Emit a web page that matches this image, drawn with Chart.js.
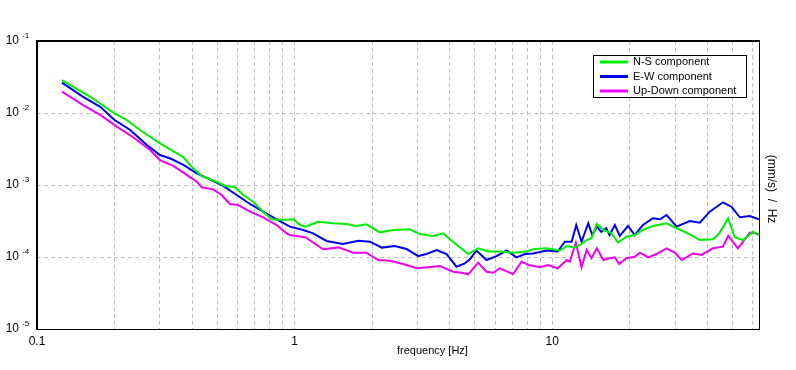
<!DOCTYPE html>
<html>
<head>
<meta charset="utf-8">
<script src="https://cdn.jsdelivr.net/npm/chart.js@4.4.1/dist/chart.umd.min.js"></script>
<style>
html,body{margin:0;padding:0;background:#ffffff;}
#wrap{width:796px;height:370px;position:relative;}
</style>
</head>
<body>
<div id="wrap"><canvas id="c" width="796" height="370"></canvas></div>
<script>
// ---- data ----
const seriesNames = ['N-S component', 'E-W component', 'Up-Down component'];

const nsFreq = [0.125,0.161,0.2,0.223,0.251,0.3,0.328,0.37,0.398,0.436,0.498,0.537,0.587,0.632,0.691,0.755,0.814,0.903,0.988,1.05,1.1,1.235,1.41,1.59,1.74,1.9,2.14,2.41,2.8,3.06,3.45,3.77,4.12,4.72,5.16,5.64,6.26,7.05,7.95,8.43,9.5,10.7,11.4,12.2,12.8,13.6,14.2,14.9,15.8,17.0,18.0,19.4,20.9,22.5,24.6,27.8,30.4,33.2,37.4,42.1,44.7,48.2,51.1,55.1,60.2,63.4];
const nsPSD = [2.87e-2,1.68e-2,9.9e-3,8.0e-3,5.81e-3,3.79e-3,3.16e-3,2.43e-3,1.80e-3,1.33e-3,1.11e-3,9.7e-4,9.3e-4,7.26e-4,5.86e-4,4.26e-4,3.34e-4,3.27e-4,3.34e-4,2.78e-4,2.64e-4,3.09e-4,2.94e-4,2.87e-4,2.70e-4,2.84e-4,2.20e-4,2.37e-4,2.43e-4,2.08e-4,1.96e-4,2.13e-4,1.63e-4,1.10e-4,1.32e-4,1.19e-4,1.19e-4,1.15e-4,1.19e-4,1.28e-4,1.32e-4,1.23e-4,1.42e-4,1.36e-4,1.47e-4,1.72e-4,1.82e-4,2.87e-4,2.37e-4,2.13e-4,1.58e-4,1.91e-4,2.02e-4,2.37e-4,2.70e-4,2.94e-4,2.51e-4,2.18e-4,1.72e-4,1.76e-4,2.18e-4,3.45e-4,1.88e-4,1.72e-4,2.24e-4,2.02e-4];

const ewFreq = [0.125,0.151,0.176,0.2,0.23,0.267,0.3,0.328,0.37,0.417,0.469,0.528,0.596,0.671,0.755,0.852,0.959,1.08,1.18,1.33,1.54,1.77,1.96,2.18,2.45,2.72,3.02,3.25,3.56,3.89,4.25,4.58,4.79,5.08,5.56,6.08,6.65,7.27,7.83,8.43,9.5,10.5,11.2,11.9,12.4,13.0,13.8,14.3,14.9,15.5,16.2,16.7,17.5,18.3,19.7,20.9,22.5,24.6,26.2,27.8,30.4,34.2,37.4,40.9,46.0,49.6,53.5,58.5,63.4];
const ewPSD = [2.64e-2,1.68e-2,1.22e-2,8.0e-3,5.81e-3,3.6e-3,2.61e-3,2.35e-3,1.90e-3,1.45e-3,1.20e-3,9.7e-4,7.26e-4,5.45e-4,4.26e-4,3.34e-4,2.64e-4,2.37e-4,2.13e-4,1.67e-4,1.52e-4,1.68e-4,1.63e-4,1.35e-4,1.42e-4,1.29e-4,1.03e-4,1.10e-4,1.25e-4,1.10e-4,7.33e-5,8.17e-5,9.3e-5,1.23e-4,9.08e-5,1.03e-4,1.23e-4,9.9e-5,1.10e-4,1.12e-4,1.23e-4,1.19e-4,1.63e-4,1.63e-4,2.78e-4,1.63e-4,2.94e-4,2.02e-4,2.64e-4,2.24e-4,2.51e-4,2.02e-4,2.78e-4,1.96e-4,2.70e-4,2.02e-4,2.78e-4,3.45e-4,3.34e-4,3.83e-4,2.64e-4,3.16e-4,2.99e-4,4.26e-4,5.75e-4,5.0e-4,3.56e-4,3.71e-4,3.34e-4];

const udFreq = [0.125,0.151,0.176,0.204,0.236,0.275,0.3,0.338,0.381,0.417,0.436,0.483,0.521,0.561,0.604,0.671,0.755,0.852,0.931,0.959,1.1,1.29,1.48,1.69,1.9,2.11,2.34,2.64,2.98,3.3,3.66,4.12,4.45,4.72,5.16,5.56,5.9,6.26,7.05,7.6,8.13,8.95,9.64,10.5,11.4,11.7,12.35,13.0,13.6,14.2,14.9,15.8,16.7,17.5,18.2,19.4,20.9,21.9,23.6,25.4,27.8,29.9,31.8,35.2,37.9,42.1,46.0,48.2,52.6,58.5,63.4];
const udPSD = [1.98e-2,1.29e-2,9.4e-3,6.46e-3,4.6e-3,3.06e-3,2.22e-3,1.84e-3,1.38e-3,1.11e-3,9.3e-4,8.7e-4,7.26e-4,5.45e-4,5.27e-4,4.26e-4,3.56e-4,2.78e-4,2.13e-4,2.02e-4,1.88e-4,1.28e-4,1.36e-4,1.15e-4,1.15e-4,9.08e-5,8.89e-5,8.0e-5,6.97e-5,7.2e-5,7.5e-5,6.25e-5,6.05e-5,5.75e-5,8.34e-5,6.25e-5,6.05e-5,6.97e-5,5.8e-5,8.6e-5,7.74e-5,7.2e-5,7.74e-5,6.97e-5,9.08e-5,8.6e-5,1.58e-4,7.2e-5,1.25e-4,9.6e-5,1.32e-4,9.08e-5,9.6e-5,9.9e-5,8.0e-5,9.6e-5,1.01e-4,1.15e-4,9.9e-5,1.10e-4,1.32e-4,1.15e-4,9.08e-5,1.12e-4,1.07e-4,1.32e-4,1.39e-4,1.96e-4,1.32e-4,2.18e-4,2.08e-4];

const xTickLabels = ['0.1', '1', '10'];
const yTickExponents = [-1, -2, -3, -4, -5];
const xAxisTitle = 'frequency [Hz]';
const yAxisTitle = '(mm/s)  /  Hz';

// ---- chart ----
const FONT = '"Liberation Sans", Arial, sans-serif';
const colors = ['#00ee00', '#0000f0', '#f000f0'];
const toPts = (fs, vs) => fs.map((f, i) => ({x: f, y: vs[i]}));

const datasets = [
  [nsFreq, nsPSD], [ewFreq, ewPSD], [udFreq, udPSD]
].map(([f, v], i) => ({
  label: seriesNames[i],
  data: toPts(f, v),
  borderColor: colors[i],
  backgroundColor: colors[i],
  borderWidth: 2,
  pointRadius: 0,
  tension: 0,
  fill: false
}));

const extras = {
  id: 'extras',
  afterDraw(chart) {
    const {ctx, chartArea: a, scales: {y}} = chart;
    ctx.save();
    // frame
    ctx.fillStyle = '#000';
    ctx.fillRect(a.left - 1, a.top - 1, 2, a.bottom - a.top + 2);
    ctx.fillRect(a.left - 1, a.top - 1, a.right - a.left + 2, 2);
    ctx.fillRect(a.right, a.top - 1, 1, a.bottom - a.top + 2);
    ctx.fillRect(a.left - 1, a.bottom, a.right - a.left + 2, 1);

    // y tick labels with superscript exponents
    ctx.textBaseline = 'middle';
    yTickExponents.forEach(e => {
      const py = y.getPixelForValue(Math.pow(10, e));
      ctx.font = '12px ' + FONT;
      ctx.textAlign = 'right';
      ctx.fillText('10', 19, py);
      ctx.font = '8px ' + FONT;
      ctx.textAlign = 'left';
      ctx.fillText(String(e), 22, py - 5);
    });

    // x axis title
    ctx.font = '11px ' + FONT;
    ctx.textAlign = 'left';
    ctx.fillText(xAxisTitle, (a.left + a.right) / 2 - 1, 351);

    // right side unit label
    ctx.save();
    ctx.translate(771, (a.top + a.bottom) / 2 + 4);
    ctx.rotate(Math.PI / 2);
    ctx.textAlign = 'center';
    ctx.font = '12px ' + FONT;
    ctx.fillText(yAxisTitle, 0, 0);
    ctx.restore();

    // legend box
    const lx = 593, ly = 55, lw = 153, lh = 42;
    ctx.fillStyle = '#fff';
    ctx.fillRect(lx, ly, lw, lh);
    ctx.strokeStyle = '#000';
    ctx.lineWidth = 1;
    ctx.strokeRect(lx + 0.5, ly + 0.5, lw, lh);
    chart.data.datasets.forEach((ds, i) => {
      const ry = ly + 7 + i * 14.5;
      ctx.strokeStyle = ds.borderColor;
      ctx.lineWidth = 3;
      ctx.beginPath();
      ctx.moveTo(lx + 7, ry);
      ctx.lineTo(lx + 35, ry);
      ctx.stroke();
      ctx.fillStyle = '#000';
      ctx.font = '11px ' + FONT;
      ctx.textAlign = 'left';
      ctx.textBaseline = 'middle';
      ctx.fillText(ds.label, lx + 40, ry);
    });
    ctx.restore();
  }
};

new Chart(document.getElementById('c'), {
  type: 'line',
  data: {datasets},
  options: {
    responsive: false,
    animation: false,
    devicePixelRatio: 1,
    layout: {padding: {left: 0, top: 41, right: 37, bottom: 0}},
    plugins: {legend: {display: false}, tooltip: {enabled: false}},
    scales: {
      x: {
        type: 'logarithmic',
        min: 0.1,
        max: 63.5,
        afterBuildTicks(scale) {
          const t = [];
          for (let d = -1; d <= 1; d++) {
            for (let m = 1; m <= 9; m++) {
              const v = m * Math.pow(10, d);
              if (v <= scale.max + 1e-9) t.push({value: v});
            }
          }
          scale.ticks = t;
        },
        afterFit(scale) { scale.height = 41; },
        grid: {color: '#c0c0c0', lineWidth: 1, drawTicks: false},
        border: {display: false, dash: [4, 3]},
        ticks: {
          autoSkip: false,
          maxRotation: 0,
          padding: 5,
          color: '#000',
          font: {family: FONT, size: 12},
          callback(v) {
            const hit = xTickLabels.find(s => Math.abs(parseFloat(s) - v) < 1e-9);
            return hit || '';
          }
        }
      },
      y: {
        type: 'logarithmic',
        min: 1e-5,
        max: 1e-1,
        afterBuildTicks(scale) {
          scale.ticks = yTickExponents.map(e => ({value: Math.pow(10, e)})).reverse();
        },
        afterFit(scale) { scale.width = 37; },
        grid: {color: '#c0c0c0', lineWidth: 1, drawTicks: false},
        border: {display: false, dash: [4, 3]},
        ticks: {display: false}
      }
    }
  },
  plugins: [extras]
});
</script>
</body>
</html>
